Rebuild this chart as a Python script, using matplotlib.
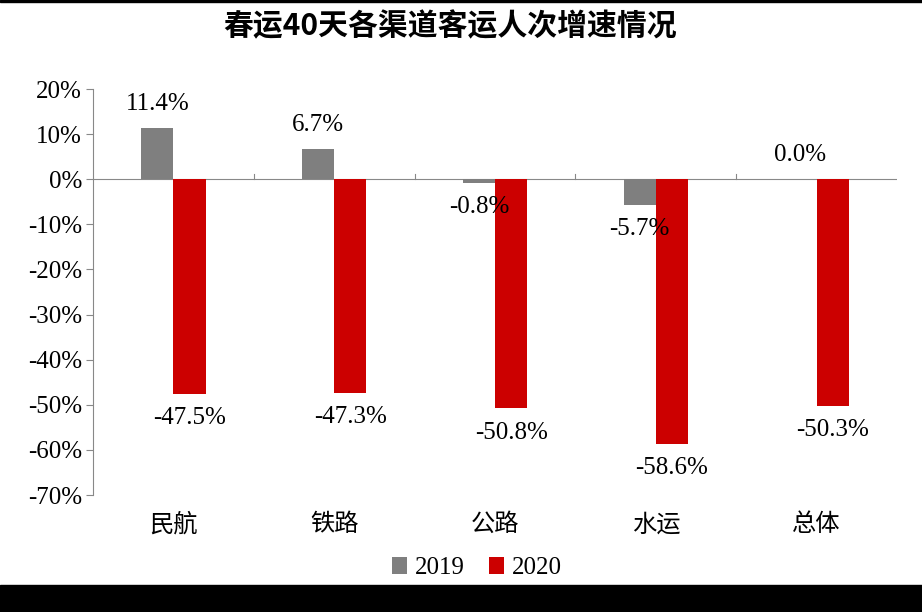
import matplotlib
matplotlib.use("Agg")
import matplotlib.pyplot as plt
from matplotlib.patches import Rectangle
from matplotlib.ticker import FuncFormatter, MultipleLocator
import numpy as np

categories = ["民航", "铁路", "公路", "水运", "总体"]
series_names = ["2019", "2020"]
values_2019 = [11.4, 6.7, -0.8, -5.7, 0.0]
values_2020 = [-47.5, -47.3, -50.8, -58.6, -50.3]
title = "春运40天各渠道客运人次增速情况"

serif = ["Liberation Serif", "DejaVu Serif"]
cjk = ["Noto Sans CJK SC", "DejaVu Sans"]

fig = plt.figure(figsize=(9.22, 6.12), dpi=100)
fig.patch.set_facecolor("white")
W, H = 922, 612
ax = fig.add_axes([93 / W, 1 - 495 / H, (897 - 93) / W, (495 - 89) / H])

x = np.arange(len(categories))
bw = 0.2
c19, c20 = "#7F7F7F", "#CC0000"
b1 = ax.bar(x - bw / 2, values_2019, bw, color=c19, label=series_names[0], zorder=2)
b2 = ax.bar(x + bw / 2, values_2020, bw, color=c20, label=series_names[1], zorder=2)

ax.set_xlim(-0.5, len(categories) - 0.5)
ax.set_ylim(-70, 20)
ax.yaxis.set_major_locator(MultipleLocator(10))
ax.yaxis.set_major_formatter(FuncFormatter(lambda v, p: f"{v:.0f}%"))

for s in ["top", "right", "bottom"]:
    ax.spines[s].set_visible(False)
ax.spines["left"].set_color("#888888")
ax.spines["left"].set_linewidth(0.8)
ax.tick_params(axis="y", length=5, color="#888888", width=0.8, labelsize=18, pad=3)
for t in ax.get_yticklabels():
    t.set_fontfamily(serif)

# zero line with category boundary ticks
ax.axhline(0, color="#888888", lw=0.8, zorder=1)
for b in np.arange(0.5, len(categories) - 0.5, 1.0):
    ax.plot([b, b], [0, 1.1], color="#888888", lw=0.8, zorder=1)

ax.set_xticks([])
for i, c in enumerate(categories):
    ax.text(i, -76.5, c, ha="center", va="center", fontsize=17.5,
            family=cjk, transform=ax.transData, clip_on=False)

def lab(xp, v):
    off = 5.3 if v >= 0 else -5.4
    return ax.text(xp, v + off, f"{v:.1f}%", ha="center", va="center",
                   fontsize=18, family=serif, zorder=3)

for i, v in enumerate(values_2019):
    lab(x[i] - bw / 2, v)
for i, v in enumerate(values_2020):
    lab(x[i] + bw / 2, v)

leg = fig.legend(handles=[b1, b2], labels=series_names, loc="center",
                 bbox_to_anchor=(477 / W, 1 - 568 / H), ncol=2, frameon=False,
                 prop={"family": serif, "size": 18}, handlelength=0.6,
                 handleheight=0.7, handletextpad=0.3, columnspacing=1.0)

fig.text(450 / W, 1 - 26 / H, title, ha="center", va="center", fontsize=21.5,
         fontweight="bold", family=cjk)

# black bands
fig.patches.append(Rectangle((0, 0), 1, 27 / H, transform=fig.transFigure,
                             color="black", zorder=0))
fig.patches.append(Rectangle((0, 1 - 2 / H), 1, 2 / H, transform=fig.transFigure,
                             color="black", zorder=0))

fig.savefig("out.png", dpi=100, facecolor="white")
